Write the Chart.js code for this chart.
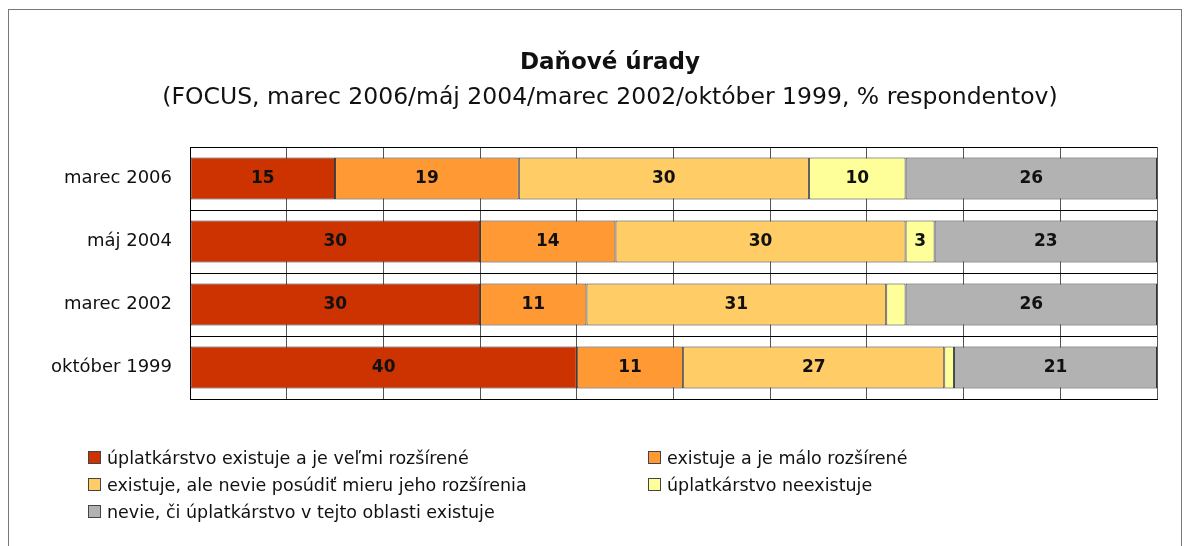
<!DOCTYPE html>
<html>
<head>
<meta charset="utf-8">
<script src="https://cdn.jsdelivr.net/npm/chart.js@4.4.1/dist/chart.umd.min.js"></script>
<style>
  html, body { margin: 0; padding: 0; background: #fff; }
  #frame { position: absolute; left: 8px; top: 9px; width: 1172px; height: 600px; border: 1px solid #777; }
  #wrap { position: absolute; left: 0; top: 0; width: 1190px; height: 546px; }
</style>
</head>
<body>
<div id="frame"></div>
<div id="wrap"><canvas id="chart" width="1190" height="546"></canvas></div>
<script>
const FONT = "'DejaVu Sans', Verdana, sans-serif";

const chartTitle = 'Daňové úrady';
const chartSubtitle = '(FOCUS, marec 2006/máj 2004/marec 2002/október 1999, % respondentov)';
const categories = ['marec 2006', 'máj 2004', 'marec 2002', 'október 1999'];
const seriesNames = [
    'úplatkárstvo existuje a je veľmi rozšírené',
    'existuje a je málo rozšírené',
    'existuje, ale nevie posúdiť mieru jeho rozšírenia',
    'úplatkárstvo neexistuje',
    'nevie, či úplatkárstvo v tejto oblasti existuje'
];
const veryWidespread = [15, 30, 30, 40];
const littleWidespread = [19, 14, 11, 11];
const cannotJudge = [30, 30, 31, 27];
const doesNotExist = [10, 3, 2, 1];
const doesNotKnow = [26, 23, 26, 21];
const seriesColors = ['#CC3300', '#FF9933', '#FFCC66', '#FFFF99', '#B2B2B2'];

const seriesValues = [veryWidespread, littleWidespread, cannotJudge, doesNotExist, doesNotKnow];

// title block, centred on the frame rather than the plot
const titleBlock = {
    id: 'titleBlock',
    afterDraw(chart) {
        const ctx = chart.ctx;
        ctx.save();
        ctx.fillStyle = '#111';
        ctx.textAlign = 'center';
        ctx.textBaseline = 'middle';
        ctx.font = 'bold 23px ' + FONT;
        ctx.fillText(chartTitle, 610, 63);
        ctx.font = '23.5px ' + FONT;
        ctx.fillText(chartSubtitle, 610, 98);
        ctx.restore();
    }
};

// values in the bars, small slices stay unlabelled
const barLabels = {
    id: 'barLabels',
    afterDatasetsDraw(chart) {
        const ctx = chart.ctx;
        ctx.save();
        ctx.font = 'bold 17px ' + FONT;
        ctx.fillStyle = '#111';
        ctx.textAlign = 'center';
        ctx.textBaseline = 'middle';
        chart.data.datasets.forEach((ds, i) => {
            const meta = chart.getDatasetMeta(i);
            meta.data.forEach((bar, j) => {
                const v = ds.data[j];
                if (v < 3) return;
                const p = bar.getProps(['x', 'y', 'base'], true);
                ctx.fillText(String(v), (p.x + p.base) / 2, p.y);
            });
        });
        ctx.restore();
    }
};

// two-column legend below the plot
const gridLegend = {
    id: 'gridLegend',
    afterDraw(chart) {
        const ctx = chart.ctx;
        const cols = [88, 648];
        const rows = [458, 485, 512];
        ctx.save();
        ctx.font = '17.5px ' + FONT;
        ctx.textBaseline = 'middle';
        ctx.textAlign = 'left';
        chart.data.datasets.forEach((ds, i) => {
            const x = cols[i % 2];
            const y = rows[Math.floor(i / 2)];
            ctx.fillStyle = ds.backgroundColor;
            ctx.fillRect(x, y - 7, 13, 13);
            ctx.strokeStyle = '#444';
            ctx.lineWidth = 1;
            ctx.strokeRect(x + 0.5, y - 6.5, 12, 12);
            ctx.fillStyle = '#111';
            ctx.fillText(ds.label, x + 19, y + 1);
        });
        ctx.restore();
    }
};

const data = {
    labels: categories,
    datasets: seriesValues.map((values, index) => {
        return {
            label: seriesNames[index],
            data: values,
            backgroundColor: seriesColors[index],
            borderColor: '#333',
            borderWidth: 1,
            borderSkipped: false,
            categoryPercentage: 0.667,
            barPercentage: 1
        }
    })
};

const config = {
    type: 'bar',
    data: data,
    options: {
        indexAxis: 'y',
        responsive: false,
        animation: false,
        layout: {
            padding: { left: 20, right: 33, top: 147, bottom: 147 }
        },
        scales: {
            x: {
                stacked: true,
                min: 0,
                max: 100,
                ticks: { display: false, stepSize: 10 },
                grid: { color: '#555', lineWidth: 1, drawTicks: false },
                border: { display: true, color: '#000' }
            },
            y: {
                stacked: true,
                afterFit: (scale) => { scale.width = 170; },
                ticks: {
                    padding: 18,
                    color: '#111',
                    font: { family: FONT, size: 18 }
                },
                grid: { color: '#000', lineWidth: 1, drawTicks: false },
                border: { display: true, color: '#000' }
            }
        },
        plugins: {
            legend: { display: false },
            tooltip: { enabled: false },
            title: { display: false }
        }
    },
    plugins: [titleBlock, barLabels, gridLegend]
};

new Chart(document.getElementById('chart'), config);
</script>
</body>
</html>
